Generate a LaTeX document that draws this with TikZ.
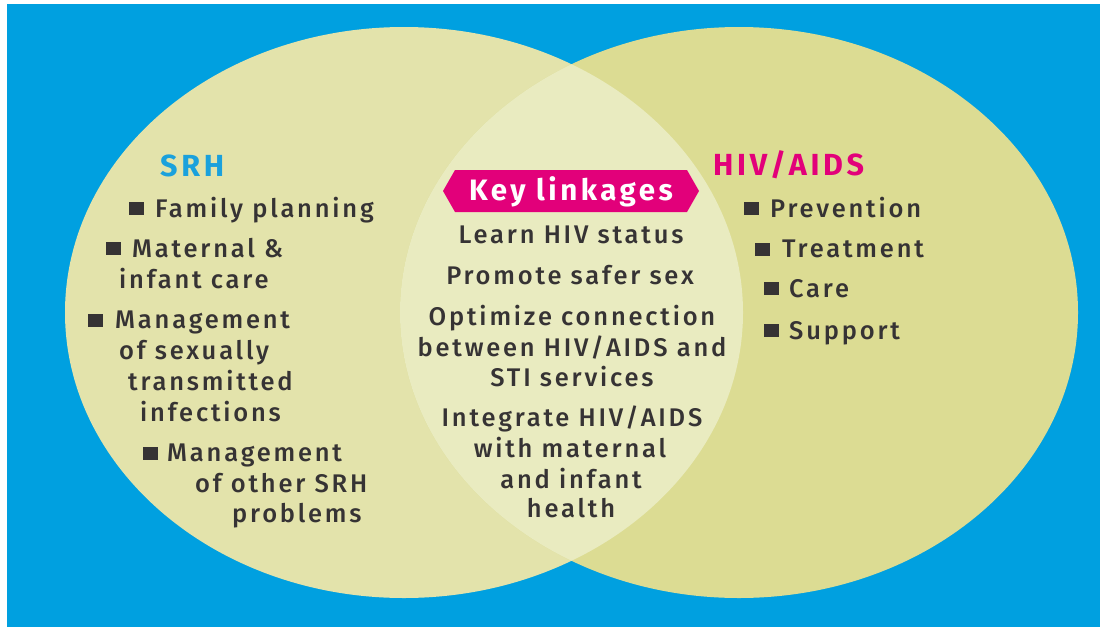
\documentclass[tikz,border=0pt]{standalone}
\usepackage{fontspec}
\setmainfont{Fira Sans}[LetterSpace=12]
\newfontfamily\medfont{Fira Sans Medium}[LetterSpace=11]
\definecolor{bgblue}{HTML}{00A0E0}
\definecolor{lefty}{HTML}{E3E3AB}
\definecolor{righty}{HTML}{DCDC93}
\definecolor{lensy}{HTML}{E9EBC0}
\definecolor{txt}{HTML}{363334}
\definecolor{srhblue}{HTML}{1BA1DC}
\definecolor{mag}{HTML}{E2007A}
\tikzset{
  item/.style={anchor=base west, inner sep=0pt, text=txt, font=\medfont\fontsize{25.5}{25.5}\selectfont},
  ctr/.style={anchor=base, inner sep=0pt, text=txt, font=\medfont\fontsize{25.5}{25.5}\selectfont},
  bul/.style={fill=txt, minimum width=15pt, minimum height=13pt, inner sep=0pt, anchor=center},
  ttl/.style={anchor=base west, inner sep=0pt, font=\bfseries\fontsize{30.5}{30.5}\selectfont},
  lefte/.style={x radius=339pt, y radius=285.5pt},
}
\begin{document}
\begin{tikzpicture}[x=1pt,y=-1pt]
\useasboundingbox (0,0) rectangle (1100,627);
\fill[white] (0,0) rectangle (1100,627);
\fill[bgblue] (7,4) rectangle (1100,627);
\fill[lefty] (404,312.5) ellipse [lefte];
\fill[righty] (739,312.5) ellipse [lefte];
\begin{scope}
  \clip (404,312.5) ellipse [lefte];
  \fill[lensy] (739,312.5) ellipse [lefte];
\end{scope}
% titles
\node[ttl, text=srhblue] (srh) at (160,176) {SRH};
\node[ttl, text=mag] (hiv) at (713,175) {HIV/AIDS};
% SRH items
\node[bul] (b1) at (136,208) {};
\node[item] (fp) at (155,217) {Family planning};
\node[bul] (b2) at (113,248) {};
\node[item] (mat1) at (132,257) {Maternal \&};
\node[item] (mat2) at (119,288) {infant care};
\node[bul] (b3) at (95,320) {};
\node[item] (sti1) at (115,328) {Management};
\node[item] (sti2) at (119,359) {of sexually};
\node[item] (sti3) at (128,390) {transmitted};
\node[item] (sti4) at (140,421) {infections};
\node[bul] (b4) at (150,453) {};
\node[item] (oth1) at (167,461) {Management};
\node[item] (oth2) at (195,492) {of other SRH};
\node[item] (oth3) at (232,522) {problems};
% HIV items
\node[bul] (h1) at (751,208) {};
\node[item] (prev) at (770,217) {Prevention};
\node[bul] (h2) at (762,249) {};
\node[item] (treat) at (782,257) {Treatment};
\node[bul] (h3) at (771,288) {};
\node[item] (care) at (789,297) {Care};
\node[bul] (h4) at (771,330) {};
\node[item] (supp) at (789,339) {Support};
% key linkages banner
\fill[mag] (443,191) -- (455,170) -- (687,170) -- (699,191) -- (687,212) -- (455,212) -- cycle;
\node[anchor=base, inner sep=0pt, text=white, font=\bfseries\fontsize{29.5}{29.5}\selectfont] (key) at (571,200) {Key linkages};
% linkages
\node[ctr] (l1) at (571,243) {Learn HIV status};
\node[ctr] (l2) at (570,284) {Promote safer sex};
\node[ctr] (l3) at (572,325) {Optimize connection};
\node[ctr] (l4) at (572,356) {between HIV/AIDS and};
\node[ctr] (l5) at (572,386) {STI services};
\node[ctr] (l6) at (572,426) {Integrate HIV/AIDS};
\node[ctr] (l7) at (570,457) {with maternal};
\node[ctr] (l8) at (571,488) {and infant};
\node[ctr] (l9) at (571,517) {health};
\end{tikzpicture}
\end{document}
